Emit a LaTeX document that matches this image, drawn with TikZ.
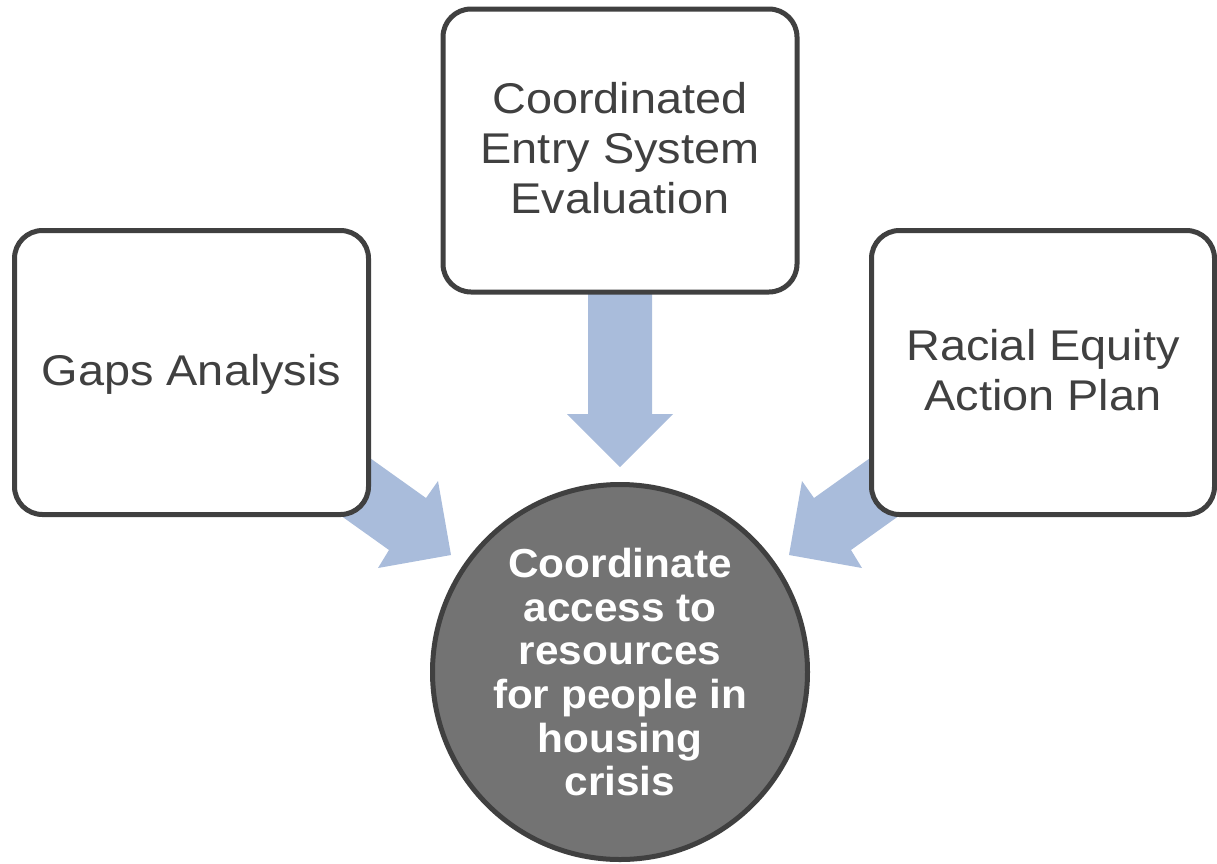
\documentclass[tikz,border=0pt]{standalone}
\usepackage{fontspec}
\setmainfont{Liberation Sans}
\usepackage{graphicx}
\definecolor{edgegray}{HTML}{404040}
\definecolor{hubfill}{HTML}{737373}
\definecolor{arrowblue}{HTML}{A9BCDB}
\newcommand{\boxtext}[1]{\raisebox{-3pt}[\height][\depth]{\scalebox{1.09}[1]{\begin{tabular}{@{}c@{}}#1\end{tabular}}}}
\newcommand{\hubtext}[1]{\raisebox{-6pt}[\height][\depth]{\scalebox{1.045}[1]{\begin{tabular}{@{}c@{}}#1\end{tabular}}}}
\begin{document}
\begin{tikzpicture}[x=1pt,y=-1pt,
  infobox/.style={draw=edgegray, line width=5pt, fill=white, rounded corners=28pt,
    inner sep=0pt, text=edgegray, font=\fontsize{43}{50}\selectfont},
  hubnode/.style={circle, draw=edgegray, line width=5pt, fill=hubfill,
    minimum size=375pt, inner sep=0pt, text=white,
    font=\bfseries\fontsize{40.5}{43.6}\selectfont},
  blockarrow/.style={fill=arrowblue, draw=none}]
\useasboundingbox (0,0) rectangle (1217,863);

% block arrows (drawn first, tails hidden under the boxes)
\coordinate (ta1) at (588,250); \coordinate (ta2) at (588,414);
\coordinate (ta3) at (567,414); \coordinate (tatip) at (620,467);
\coordinate (ta5) at (673,414); \coordinate (ta6) at (652,414);
\coordinate (ta7) at (652,250);
\fill[blockarrow] (ta1) -- (ta2) -- (ta3) -- (tatip) -- (ta5) -- (ta6) -- (ta7) -- cycle;

\coordinate (la1) at (304,411); \coordinate (la2) at (426,498);
\coordinate (la3) at (438,481); \coordinate (latip) at (451,555);
\coordinate (la5) at (378,568); \coordinate (la6) at (389,550);
\coordinate (la7) at (267,463);
\fill[blockarrow] (la1) -- (la2) -- (la3) -- (latip) -- (la5) -- (la6) -- (la7) -- cycle;

\coordinate (ra1) at (936,411); \coordinate (ra2) at (814,498);
\coordinate (ra3) at (802,481); \coordinate (ratip) at (789,555);
\coordinate (ra5) at (862,568); \coordinate (ra6) at (851,550);
\coordinate (ra7) at (973,463);
\fill[blockarrow] (ra1) -- (ra2) -- (ra3) -- (ratip) -- (ra5) -- (ra6) -- (ra7) -- cycle;

% boxes
\node[infobox, minimum width=354pt, minimum height=283pt] (ces) at (620,150.5)
  {\boxtext{Coordinated\\Entry System\\Evaluation}};
\node[infobox, minimum width=354pt, minimum height=284pt] (gaps) at (191.5,372.5)
  {\boxtext{Gaps Analysis}};
\node[infobox, minimum width=343pt, minimum height=284pt] (rea) at (1043,372.5)
  {\boxtext{Racial Equity\\Action Plan}};

% hub
\node[hubnode] (hub) at (620,672)
  {\hubtext{Coordinate\\access to\\resources\\for people in\\housing\\crisis}};
\end{tikzpicture}
\end{document}
